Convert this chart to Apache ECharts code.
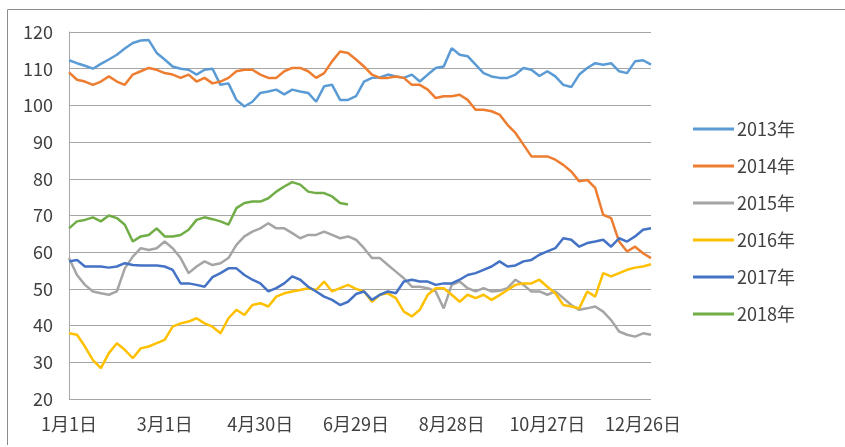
<!DOCTYPE html>
<html>
<head>
<meta charset="utf-8">
<script src="https://cdn.jsdelivr.net/npm/echarts@6/dist/echarts.min.js"></script>
<style>
  html, body { margin: 0; padding: 0; background: #fff; }
  #chart { width: 845px; height: 447px; }
</style>
</head>
<body>
<div id="chart"></div>
<script>
// x positions of the samples: day of the year (0 = 1月1日), one every 5 days
const sampleDays = Array.from({ length: 74 }, (_, i) => i * 5);
const tickLabels = ['1月1日', '3月1日', '4月30日', '6月29日', '8月28日', '10月27日', '12月26日'];
const seriesNames = ['2013年', '2014年', '2015年', '2016年', '2017年', '2018年'];

const y2013 = [112.3, 111.5, 110.8, 110, 111.3, 112.5, 113.8, 115.5, 117, 117.7, 117.8, 114.3, 112.5, 110.6, 110, 109.7, 108.4, 109.7, 110,
  105.6, 106, 101.5, 99.7, 101, 103.4, 103.8, 104.3, 103, 104.3, 103.8, 103.4, 101, 105.2, 105.6, 101.5, 101.5, 102.5,
  106.5, 107.5, 107.6, 108.4, 107.9, 107.5, 108.4, 106.5, 108.4, 110.2, 110.6, 115.6, 113.8, 113.4, 111.1, 108.8, 107.9, 107.5,
  107.5, 108.4, 110.2, 109.7, 108, 109.3, 107.9, 105.6, 105, 108.4, 110.2, 111.5, 111.1, 111.5, 109.3, 108.8, 112, 112.3, 111.1];
const y2014 = [109, 107, 106.5, 105.6, 106.5, 107.9, 106.5, 105.6, 108.4, 109.3, 110.2, 109.7, 108.8, 108.4, 107.5, 108.4, 106.5, 107.5, 106,
  106.5, 107.5, 109.3, 109.7, 109.7, 108.4, 107.5, 107.5, 109.3, 110.2, 110.2, 109.3, 107.5, 108.8, 112, 114.7, 114.3, 112.5,
  110.6, 108.4, 107.5, 107.5, 107.9, 107.5, 105.6, 105.6, 104.3, 102, 102.5, 102.5, 102.9, 101.5, 98.8, 98.8, 98.4, 97.5,
  94.7, 92.5, 89.3, 86.1, 86.1, 86.1, 85.2, 83.8, 82, 79.3, 79.7, 77.5, 70.2, 69.3, 62.9, 60.2, 61.5, 59.7, 58.4];
const y2015 = [58.4, 53.8, 51.1, 49.3, 48.8, 48.4, 49.3, 55.6, 58.8, 61.1, 60.6, 61.1, 62.9, 61.1, 58.4, 54.3, 56.1, 57.5, 56.5,
  57, 58.4, 62, 64.3, 65.6, 66.5, 67.9, 66.5, 66.5, 65.2, 63.8, 64.7, 64.7, 65.6, 64.7, 63.8, 64.3, 63.4,
  61.1, 58.4, 58.4, 56.5, 54.7, 52.9, 50.6, 50.6, 50.2, 49.3, 44.7, 51.1, 52, 50.2, 49.3, 50.2, 49.3, 49.5,
  50.2, 52.5, 51.1, 49.3, 49.3, 48.4, 49.3, 47.5, 45.6, 44.3, 44.7, 45.2, 43.8, 41.5, 38.4, 37.5, 37, 37.9, 37.5];
const y2016 = [37.9, 37.5, 34.3, 30.6, 28.4, 32.5, 35.2, 33.4, 31.1, 33.8, 34.3, 35.2, 36.1, 39.7, 40.6, 41.1, 42, 40.6, 39.7,
  37.9, 42, 44.3, 42.9, 45.6, 46.1, 45.2, 47.9, 48.8, 49.3, 49.7, 50.2, 49.7, 52, 49.3, 50.2, 51.1, 50,
  49.3, 46.5, 48.4, 48.8, 47.5, 43.8, 42.5, 44.3, 48.4, 50.2, 50.2, 48.4, 46.5, 48.4, 47.5, 48.4, 47, 48.3,
  49.7, 51.1, 51.5, 51.5, 52.5, 50.6, 48.8, 45.6, 45.2, 44.7, 49.3, 47.9, 54.3, 53.4, 54.3, 55.2, 55.8, 56.1, 56.7];
const y2017 = [57.5, 57.9, 56.1, 56.1, 56.1, 55.8, 56.1, 57, 56.5, 56.4, 56.4, 56.4, 56.1, 55.2, 51.5, 51.5, 51.1, 50.6, 53.2,
  54.3, 55.6, 55.6, 53.8, 52.5, 51.5, 49.3, 50.2, 51.5, 53.4, 52.5, 50.6, 49.3, 47.9, 47, 45.6, 46.5, 48.6,
  49.3, 47, 48.4, 49.3, 48.8, 52, 52.5, 52, 52, 51.1, 51.5, 51.5, 52.5, 53.8, 54.3, 55.2, 56.1, 57.5,
  56.1, 56.4, 57.5, 57.9, 59.3, 60.2, 61.1, 63.8, 63.4, 61.5, 62.5, 62.9, 63.4, 61.5, 63.8, 62.9, 64.3, 66.1, 66.5];
// 2018 stops at the end of June
const y2018 = [66.5, 68.4, 68.8, 69.5, 68.4, 70, 69.3, 67.5, 62.9, 64.3, 64.7, 66.5, 64.3, 64.3, 64.7, 66.1, 68.8, 69.5, 69,
  68.4, 67.5, 72, 73.4, 73.8, 73.8, 74.7, 76.5, 77.9, 79.1, 78.4, 76.5, 76.1, 76.1, 75.2, 73.4, 73];

const allValues = [y2013, y2014, y2015, y2016, y2017, y2018];
const colors = ['#5B9BD5', '#ED7D31', '#A5A5A5', '#FFC000', '#4472C4', '#70AD47'];
const font = '"Noto Sans CJK SC", sans-serif';

const chart = echarts.init(document.getElementById('chart'), null, { renderer: 'canvas' });
chart.setOption({
  animation: false,
  backgroundColor: '#fff',
  color: colors,
  textStyle: { fontFamily: font },
  graphic: [{
    type: 'polyline',
    shape: { points: [[7.5, 445], [7.5, 9.5], [845, 9.5]] },
    style: { stroke: '#8C8C8C', lineWidth: 1, fill: null },
    silent: true
  }],
  grid: { left: 69, right: 194, top: 32, bottom: 48 },
  legend: {
    orient: 'vertical',
    left: 693,
    top: 120,
    padding: 0,
    icon: 'rect',
    itemWidth: 41,
    itemHeight: 3,
    itemGap: 19,
    data: seriesNames,
    textStyle: { fontSize: 18, color: '#404040', fontFamily: font, lineHeight: 18, padding: [0, 0, 0, -2] }
  },
  xAxis: {
    type: 'value',
    min: 0,
    max: 365,
    interval: 60,
    axisLine: { show: false },
    axisTick: { show: false },
    splitLine: { show: false },
    axisLabel: {
      color: '#404040',
      fontSize: 18,
      fontFamily: font,
      margin: 16,
      showMaxLabel: false,
      formatter: v => tickLabels[v / 60] ?? ''
    }
  },
  yAxis: {
    type: 'value',
    min: 20,
    max: 120,
    interval: 10,
    axisLine: { show: true, lineStyle: { color: '#A6A6A6', width: 1 } },
    axisTick: { show: false },
    splitLine: { lineStyle: { color: '#A6A6A6', width: 1 } },
    axisLabel: { color: '#404040', fontSize: 18, fontFamily: font, margin: 16 }
  },
  series: seriesNames.map((name, k) => ({
    name,
    type: 'line',
    symbol: 'none',
    lineStyle: { width: 2.5 },
    data: allValues[k].map((v, i) => [sampleDays[i], v])
  }))
});
</script>
</body>
</html>
